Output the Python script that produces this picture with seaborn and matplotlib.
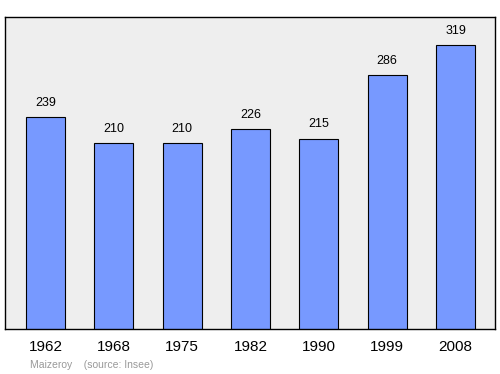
import matplotlib
matplotlib.use("Agg")
import matplotlib.pyplot as plt
import seaborn as sns
import pandas as pd

years = ["1962", "1968", "1975", "1982", "1990", "1999", "2008"]
population = [239, 210, 210, 226, 215, 286, 319]

sns.set_style("white")
plt.rcParams['font.family'] = ['Liberation Sans', 'DejaVu Sans']

df = pd.DataFrame({"year": years, "pop": population})

fig = plt.figure(figsize=(5, 3.74), dpi=100)
ax = fig.add_axes([0.01, 0.1203, 0.98, 0.834])
ax.set_facecolor("#eeeeee")

sns.barplot(data=df, x="year", y="pop", color="#7799ff", saturation=1,
            edgecolor="black", linewidth=0.8, width=0.571, ax=ax)

for i, v in enumerate(population):
    ax.text(i, v + 9, str(v), ha="center", va="bottom", fontsize=9, color="black")

ax.set_xlim(-0.593, 6.578)
ax.set_ylim(3.4, 350)
ax.set_yticks([])
ax.set_xlabel("")
ax.set_ylabel("")
ax.tick_params(axis="x", length=0, labelsize=11, pad=8, labelcolor="black")
for s in ax.spines.values():
    s.set_visible(True)
    s.set_color("black")
    s.set_linewidth(1)

fig.text(0.06, 0.017, "Maizeroy    (source: Insee)", fontsize=7.5, color="#999999")

fig.savefig("out.png", dpi=100)
